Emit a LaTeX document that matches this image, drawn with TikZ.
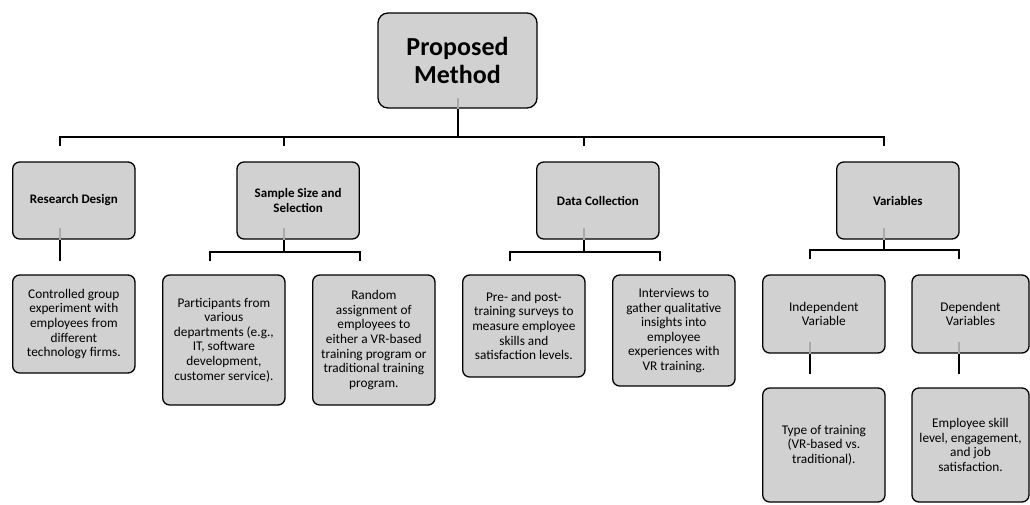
\documentclass[tikz,border=0pt]{standalone}
\usepackage{fontspec}
\setmainfont{Carlito}
\definecolor{boxfill}{RGB}{209,209,209}
\definecolor{stubgray}{RGB}{170,170,170}
\begin{document}
\begin{tikzpicture}[x=1pt,y=-1pt,
  box/.style={draw=black, line width=1.3pt, fill=boxfill, rounded corners=7pt,
    align=center, inner sep=0pt, minimum width=122.3pt, text=black},
  lone/.style={box, minimum height=77pt, font=\fontsize{13}{14.3}\selectfont\bfseries},
  ltwo/.style={box, font=\fontsize{13.3}{14.6}\selectfont},
  conn/.style={draw=black, line width=2pt},
  stub/.style={draw=stubgray, line width=2pt}]
\useasboundingbox (0,0) rectangle (1030,504);

% top
\node[box, minimum width=159pt, minimum height=95pt, rounded corners=10pt,
  font=\fontsize{26}{28.5}\selectfont\bfseries] (top) at (457.5,60.5) {Proposed\\Method};

% level 1
\node[lone] (rd)  at (73.85,200.5)  {Research Design};
\node[lone] (ss)  at (298.15,200.5) {Sample Size and\\Selection};
\node[lone] (dc)  at (597.85,200.5) {Data Collection};
\node[lone] (var) at (897.85,200.5) {Variables};

% level 2
\node[ltwo, minimum height=98pt]  (cg)   at (73.85,324)   {Controlled group\\experiment with\\employees from\\different\\technology firms.};
\node[ltwo, minimum height=130pt] (part) at (223.85,340)  {Participants from\\various\\departments (e.g.,\\IT, software\\development,\\customer service).};
\node[ltwo, minimum height=130pt] (rand) at (373.85,340)  {Random\\assignment of\\employees to\\either a VR-based\\training program or\\traditional training\\program.};
\node[ltwo, minimum height=102pt] (pre)  at (523.85,326)  {Pre- and post-\\training surveys to\\measure employee\\skills and\\satisfaction levels.};
\node[ltwo, minimum height=111pt] (int)  at (673.85,330.5){Interviews to\\gather qualitative\\insights into\\employee\\experiences with\\VR training.};
\node[ltwo, minimum height=78pt]  (ind)  at (823.85,314)   {Independent\\Variable};
\node[ltwo, minimum height=78pt, minimum width=117pt] (dep) at (970.5,314) {Dependent\\Variables};

% level 3
\node[ltwo, minimum height=114pt] (type) at (823.85,445) {Type of training\\(VR-based vs.\\traditional).};
\node[ltwo, minimum height=114pt, minimum width=117pt] (emp) at (970.5,445) {Employee skill\\level, engagement,\\and job\\satisfaction.};

% connector anchors
\foreach \n in {rd,ss,dc,var,cg,part,rand,pre,int,ind,dep,type,emp} {
  \coordinate (\n-t) at ([xshift=47.5pt]\n.north west);
  \coordinate (\n-b) at ([xshift=47.5pt]\n.south west);
}

% grey stubs inside boxes
\draw[stub] (top.south) -- ++(0,-11);
\foreach \n in {rd,ss,dc,var,ind,dep} \draw[stub] (\n-b) -- ++(0,-12);

% top bus
\coordinate (busY) at (0,137);
\draw[conn] (top.south) -- (top.south |- busY);
\draw[conn] ([yshift=15pt]rd-t) -- (rd-t |- busY) -- (var-t |- busY) -- ([yshift=15pt]var-t);
\draw[conn] (ss-t |- busY) -- ([yshift=15pt]ss-t);
\draw[conn] (dc-t |- busY) -- ([yshift=15pt]dc-t);

% research design
\draw[conn] (rd-b) -- ([yshift=13pt]cg-t);

% sample size
\coordinate (ssY) at ([yshift=-12pt]ss-b);
\draw[conn] (ss-b) -- (ssY);
\draw[conn] ([yshift=13pt]part-t) -- (part-t |- ssY) -- (rand-t |- ssY) -- ([yshift=13pt]rand-t);

% data collection
\coordinate (dcY) at ([yshift=-12pt]dc-b);
\draw[conn] (dc-b) -- (dcY);
\draw[conn] ([yshift=13pt]pre-t) -- (pre-t |- dcY) -- (int-t |- dcY) -- ([yshift=13pt]int-t);

% variables
\coordinate (varY) at ([yshift=-10pt]var-b);
\draw[conn] (var-b) -- (varY);
\draw[conn] ([yshift=15pt]ind-t) -- (ind-t |- varY) -- (dep-t |- varY) -- ([yshift=15pt]dep-t);

\draw[conn] (ind-b) -- ([yshift=13pt]type-t);
\draw[conn] (dep-b) -- ([yshift=13pt]emp-t);
\end{tikzpicture}
\end{document}
